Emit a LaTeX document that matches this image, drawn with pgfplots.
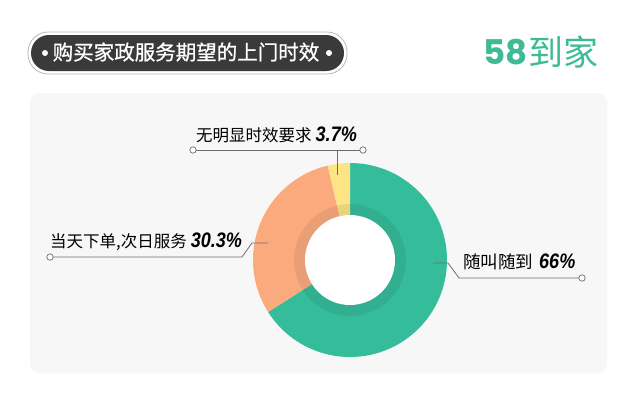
\documentclass[border=0pt]{standalone}
\usepackage{pgfplots}
\pgfplotsset{compat=1.18}
\usepackage{fontspec}
\setmainfont{Liberation Sans}
\newfontfamily\cjk{Noto Sans CJK SC}
\newfontfamily\cjkmed[FakeBold=0.9]{Noto Sans CJK SC}
\newfontfamily\pctfont{Liberation Sans}
\newfontfamily\logonum{Poppins}

\definecolor{slicegreen}{HTML}{35BD9B}
\definecolor{sliceorange}{HTML}{FBAA7E}
\definecolor{sliceyellow}{HTML}{FDE484}
\definecolor{panel}{HTML}{F7F7F7}
\definecolor{pill}{HTML}{3A3A3A}
\definecolor{logogreen}{HTML}{3DBB94}
\definecolor{leader}{HTML}{6E6E6E}

% shares in percent, clockwise from 12 o'clock (y axis runs downward, so angles run the other way)
\def\shareA{66}    % 随叫随到
\def\shareB{30.3}  % 当天下单,次日服务
\def\shareC{3.7}   % 无明显时效要求
\pgfmathsetmacro\angA{-90+3.6*\shareA}
\pgfmathsetmacro\angB{\angA+3.6*\shareB}
\pgfmathsetmacro\angC{\angB+3.6*\shareC}

\newcommand\pct[1]{\scalebox{0.86}[1]{\pctfont\bfseries\itshape\fontsize{21}{22}\selectfont #1}}
\tikzset{dot/.style={leader, fill=white, line width=0.7pt}}

\begin{document}
\begin{tikzpicture}
\begin{axis}[
  width=640pt, height=413pt, scale only axis,
  xmin=0, xmax=640, ymin=0, ymax=413,
  y dir=reverse, hide axis, clip=false,
]
% page and panel
\fill[white] (axis cs:0,0) rectangle (axis cs:640,413);
\fill[panel, rounded corners=10pt] (axis cs:30,93) rectangle (axis cs:607,373);

% title pill
\draw[gray!55, fill=white, line width=0.8pt, rounded corners=20pt] (axis cs:28,32) rectangle (axis cs:347,74);
\fill[pill, rounded corners=18pt] (axis cs:31,35) rectangle (axis cs:344,71);
\fill[white] (axis cs:45,53) circle[radius=3];
\fill[white] (axis cs:329,53) circle[radius=3];
\node[text=white, font=\cjkmed\fontsize{20.5}{22}\selectfont] at (axis cs:186,52) {购买家政服务期望的上门时效};

% logo
\node[anchor=west, inner sep=0pt, text=logogreen, font=\logonum\bfseries\fontsize{34}{36}\selectfont] at (axis cs:483,52) {58};
\node[anchor=west, inner sep=0pt, text=logogreen, font=\cjk\fontsize{35}{36}\selectfont] at (axis cs:528,52) {到家};

% donut
\fill[slicegreen] (axis cs:350,260) -- ++(-90:97) arc[start angle=-90, end angle=\angA, radius=97] -- cycle;
\fill[sliceorange] (axis cs:350,260) -- ++(\angA:97) arc[start angle=\angA, end angle=\angB, radius=97] -- cycle;
\fill[sliceyellow] (axis cs:350,260) -- ++(\angB:97) arc[start angle=\angB, end angle=\angC, radius=97] -- cycle;
\fill[black, opacity=0.07] (axis cs:350,260) circle[radius=56];
\fill[white] (axis cs:350,260) circle[radius=45];

% leader lines
\draw[leader, line width=0.8pt] (axis cs:193,150) -- (axis cs:363,150);
\draw[leader, line width=0.8pt] (axis cs:337,150) -- (axis cs:337,175);
\draw[leader, line width=0.8pt] (axis cs:50,257) -- (axis cs:242,257) -- (axis cs:252,243) -- (axis cs:268,243);
\draw[leader, line width=0.8pt] (axis cs:433,263) -- (axis cs:448,263) -- (axis cs:459,278) -- (axis cs:582,278);
\draw[dot] (axis cs:193,150) circle[radius=3.2];
\draw[dot] (axis cs:363,150) circle[radius=3.2];
\draw[dot] (axis cs:50,257) circle[radius=3.2];
\draw[dot] (axis cs:582,278) circle[radius=3.2];

% labels
\node[anchor=west, inner sep=0pt] at (axis cs:196,135) {{\cjk\fontsize{16.5}{18}\selectfont 无明显时效要求}\hspace{4pt}\pct{3.7\%}};
\node[anchor=west, inner sep=0pt] at (axis cs:50,242) {{\cjk\fontsize{16.5}{18}\selectfont 当天下单,次日服务}\hspace{4pt}\pct{30.3\%}};
\node[anchor=west, inner sep=0pt] at (axis cs:463,262) {{\cjk\fontsize{17.5}{19}\selectfont 随叫随到}\hspace{6pt}\pct{66\%}};
\end{axis}
\end{tikzpicture}
\end{document}
